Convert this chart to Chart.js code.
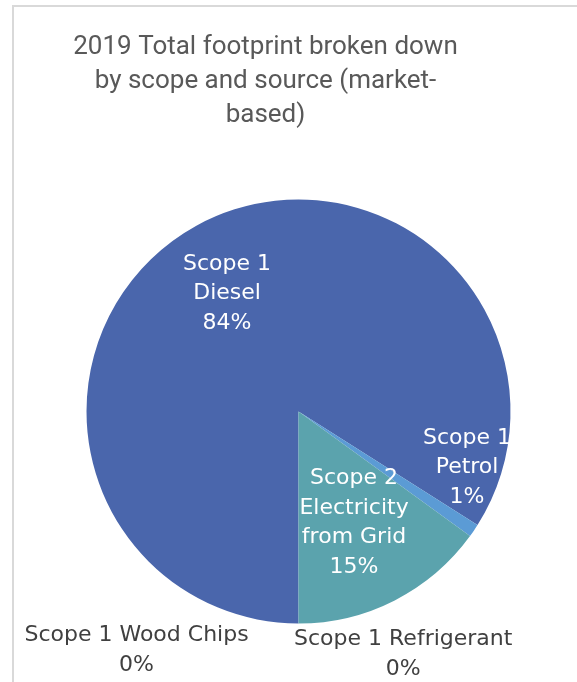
<!DOCTYPE html>
<html>
<head>
<meta charset="utf-8">
<script src="https://cdn.jsdelivr.net/npm/chart.js@4/dist/chart.umd.min.js"></script>
<style>
    html, body { margin: 0; padding: 0; background: #fff; }
    #footprintChart { display: block; }
</style>
</head>
<body>
<canvas id="footprintChart" width="577" height="682"></canvas>
<script>
// Footprint data (percent of total)
const sources = ['Scope 1 Diesel', 'Scope 1 Petrol', 'Scope 2 Electricity from Grid', 'Scope 1 Refrigerant', 'Scope 1 Wood Chips'];
const labelLines = [['Scope 1', 'Diesel'], ['Scope 1', 'Petrol'], ['Scope 2', 'Electricity', 'from Grid'], ['Scope 1 Refrigerant'], ['Scope 1 Wood Chips']];
const shares = [84, 1, 15, 0, 0];
const sliceColors = ['#4a66ac', '#5b9bd5', '#5ba3ad', '#a5a5a5', '#264478'];
const titleLines = ['2019 Total footprint broken down', 'by scope and source (market-', 'based)'];

// Where each data label block is centred, relative to the pie centre, in radii
const labelOffsets = [[-0.337, -0.557], [0.795, 0.264], [0.262, 0.524], [0.494, 1.145], [-0.764, 1.127]];
const labelInside = [true, true, true, false, false];

const labelFont = '22px "DejaVu Sans", Verdana, sans-serif';
const lineGap = 29.5;

// Frame + title
const framePlugin = {
    id: 'frame',
    beforeDraw(chart) {
        const ctx = chart.ctx;
        ctx.save();
        ctx.fillStyle = '#d9d9d9';
        ctx.fillRect(12, 5, 2, chart.height);
        ctx.fillRect(12, 5, chart.width, 2);

        ctx.fillStyle = '#595959';
        ctx.font = '26px Roboto, "Open Sans", sans-serif';
        ctx.textAlign = 'center';
        ctx.textBaseline = 'alphabetic';
        titleLines.forEach((line, i) => {
            ctx.fillText(line, 265.5, 54 + i * 34);
        });
        ctx.restore();
    }
};

// Data labels: category name lines + rounded percent
const sliceLabels = {
    id: 'sliceLabels',
    afterDatasetsDraw(chart) {
        const ctx = chart.ctx;
        const arcs = chart.getDatasetMeta(0).data;
        const total = shares.reduce((a, b) => a + b, 0);
        ctx.save();
        ctx.font = labelFont;
        ctx.textAlign = 'center';
        ctx.textBaseline = 'middle';
        arcs.forEach((arc, i) => {
            const r = arc.outerRadius;
            const cx = arc.x + labelOffsets[i][0] * r;
            const cy = arc.y + labelOffsets[i][1] * r;
            const lines = labelLines[i].concat(Math.round(shares[i] / total * 100) + '%');
            const top = cy - (lines.length - 1) * lineGap / 2;
            ctx.fillStyle = labelInside[i] ? '#ffffff' : '#404040';
            lines.forEach((line, j) => ctx.fillText(line, cx, top + j * lineGap));
        });
        ctx.restore();
    }
};

const ctx = document.getElementById('footprintChart').getContext('2d');
const myChart = new Chart(ctx, {
    type: 'pie',
    data: {
        labels: sources,
        datasets: [{
            data: shares,
            backgroundColor: sliceColors,
            borderWidth: 0,
            hoverOffset: 0
        }]
    },
    options: {
        responsive: false,
        animation: false,
        rotation: 180,
        layout: {
            padding: { left: 86.5, right: 66.5, top: 199, bottom: 58 }
        },
        plugins: {
            legend: { display: false },
            title: { display: false },
            tooltip: { enabled: false }
        }
    },
    plugins: [framePlugin, sliceLabels]
});
</script>
</body>
</html>
